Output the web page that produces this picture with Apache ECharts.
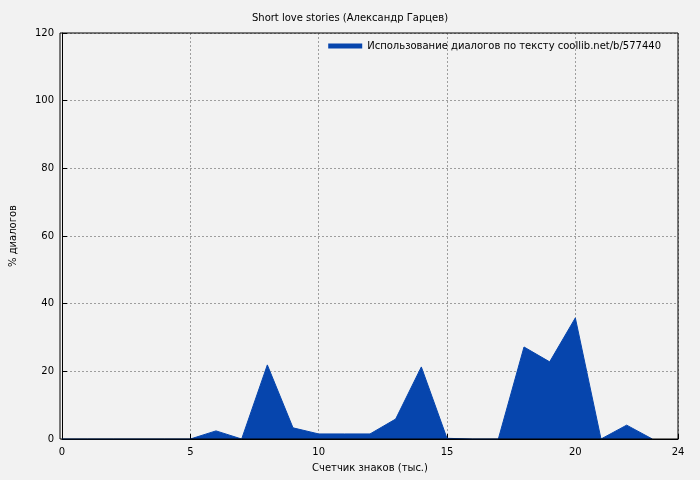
<!DOCTYPE html>
<html><head><meta charset="utf-8">
<script src="https://cdn.jsdelivr.net/npm/echarts@6/dist/echarts.min.js"></script>
<style>html,body{margin:0;background:#f2f2f2}#c{width:700px;height:480px}</style>
</head><body><div id="c"></div>
<script>
const xValues = [0,1,2,3,4,5,6,7,8,9,10,11,12,13,14,15,16,17,18,19,20,21,22,23];
const yValues = [0,0,0,0,0,0,2.4,0,21.9,3.3,1.5,1.5,1.5,5.9,21.3,0.2,0,0,27.2,22.8,35.8,0,4.1,0];
const title = 'Short love stories (Александр Гарцев)';
const seriesName = 'Использование диалогов по тексту coollib.net/b/577440';
const font = 'DejaVu Sans';
const chart = echarts.init(document.getElementById('c'));
const grid = {show:true, lineStyle:{color:'#888', type:[2,2], width:0.8}};
chart.setOption({
  backgroundColor:'#f2f2f2',
  animation:false,
  title:{text:title,left:'center',top:8,textStyle:{fontFamily:font,fontSize:10,fontWeight:'normal',color:'#000'}},
  legend:{right:34,top:36,itemWidth:34,itemHeight:5,icon:'rect',itemGap:6,
    textStyle:{fontFamily:font,fontSize:10,color:'#000'},data:[seriesName],align:'left'},
  grid:{left:60,right:22,top:33,bottom:41},
  xAxis:{type:'value',min:0,max:24,interval:5,name:'Счетчик знаков (тыс.)',nameLocation:'middle',nameGap:24,
    nameTextStyle:{fontFamily:font,fontSize:10,color:'#000'},
    axisLine:{lineStyle:{color:'#000'}},axisTick:{inside:true,lineStyle:{color:'#000'}},
    axisLabel:{fontFamily:font,fontSize:10,color:'#000'},splitLine:grid},
  yAxis:{type:'value',min:0,max:120,interval:20,name:'% диалогов',nameLocation:'middle',nameGap:44,
    nameTextStyle:{fontFamily:font,fontSize:10,color:'#000'},
    axisLine:{show:true,lineStyle:{color:'#000'}},axisTick:{show:true,inside:true,lineStyle:{color:'#000'}},
    axisLabel:{fontFamily:font,fontSize:10,color:'#000'},splitLine:grid},
  series:[{name:seriesName,type:'line',data:xValues.map((x,i)=>[x,yValues[i]]),symbol:'none',
    lineStyle:{width:1,color:'#0645ad'},itemStyle:{color:'#0645ad'},areaStyle:{color:'#0645ad',opacity:1}}]
});
// box border
chart.setOption({graphic:[{type:'rect',shape:{x:60,y:33,width:618,height:406},style:{fill:'none',stroke:'#000',lineWidth:1},z:100}]});
</script></body></html>
